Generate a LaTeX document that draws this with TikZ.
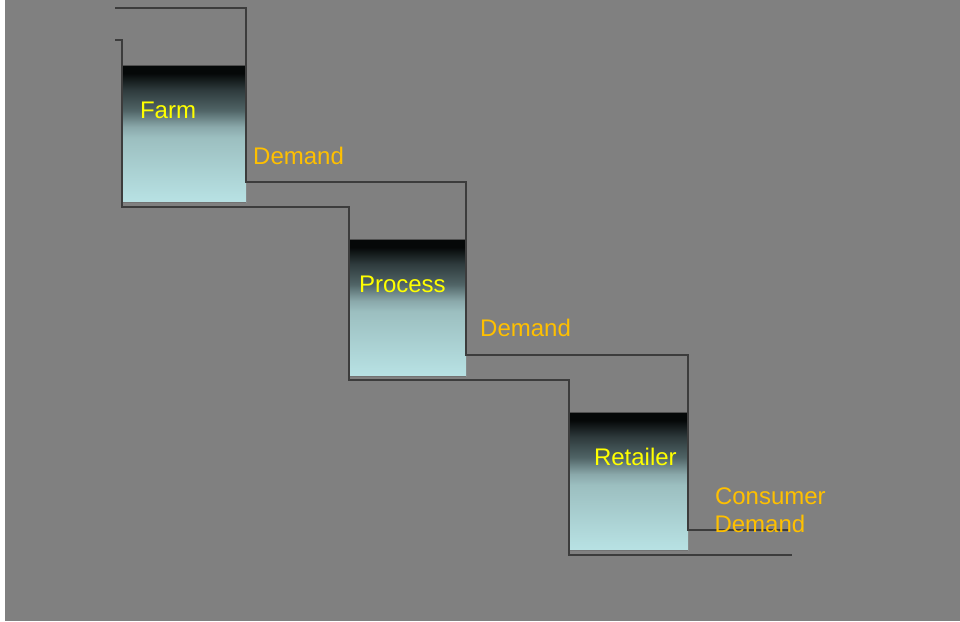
\documentclass[tikz,border=0pt]{standalone}
\usepackage{fontspec}
\setmainfont{Liberation Sans}
\definecolor{bgc}{HTML}{808080}
\definecolor{wallc}{HTML}{3C3C3C}
\definecolor{orangetxt}{HTML}{FFC000}
\definecolor{yellowtxt}{HTML}{FFFF00}
\definecolor{liqA}{HTML}{050808}
\definecolor{liqB}{HTML}{2E3A3C}
\definecolor{liqC}{HTML}{506466}
\definecolor{liqD}{HTML}{8AA8AA}
\definecolor{liqE}{HTML}{9CBFC0}
\definecolor{liqF}{HTML}{B8E2E4}
\pgfdeclareverticalshading{liquid}{100bp}{color(0bp)=(liqF); color(25bp)=(liqF); color(48.5bp)=(liqE); color(52.5bp)=(liqD); color(58.5bp)=(liqC); color(66bp)=(liqB); color(72bp)=(liqA); color(100bp)=(liqA)}
\begin{document}
\begin{tikzpicture}[x=1pt,y=-1pt,
  wall/.style={draw=wallc, line width=1.6pt},
  liq/.style={shading=liquid, draw=none},
  tanklabel/.style={text=yellowtxt, inner sep=0pt, anchor=base west, font=\fontsize{24}{28}\selectfont},
  flowlabel/.style={text=orangetxt, inner sep=0pt, anchor=base west, font=\fontsize{24}{28}\selectfont, align=left}]
\useasboundingbox[fill=white] (0,0) rectangle (960,621);
\fill[bgc] (5,0) rectangle (960,621);
% liquids
\shade[liq] (122,65) rectangle (246,202);
\shade[liq] (349,239) rectangle (466,376);
\shade[liq] (569,412) rectangle (688,550);
% liquid bottom edges
\draw[draw=gray!90!black, line width=1pt] (122,202.5) -- (246,202.5);
\draw[draw=gray!90!black, line width=1pt] (349,376.5) -- (466,376.5);
\draw[draw=gray!90!black, line width=1pt] (569,550.5) -- (688,550.5);
% liquid surface lines
\draw[draw=wallc!70!gray, line width=0.8pt] (122,65) -- (246,65);
\draw[draw=wallc!70!gray, line width=0.8pt] (349,239) -- (466,239);
\draw[draw=wallc!70!gray, line width=0.8pt] (569,412) -- (688,412);
% walls and pipes
\draw[wall] (115,40) -- (122,40) -- (122,207) -- (349,207) -- (349,380) -- (569,380) -- (569,555) -- (792,555);
\draw[wall] (115,8) -- (246,8) -- (246,182) -- (466,182) -- (466,355) -- (688,355) -- (688,530) -- (790,530);
% labels
\node[tanklabel] (farm) at (139.8,118) {Farm};
\node[tanklabel] (process) at (358.8,292) {Process};
\node[tanklabel] (retailer) at (593.8,465.7) {Retailer};
\node[flowlabel] (d1) at (253,164) {Demand};
\node[flowlabel] (d2) at (480,336.7) {Demand};
\node[flowlabel] (cons) at (714.8,504) {Consumer};
\node[flowlabel] (d3) at (714.3,532.7) {Demand};
\end{tikzpicture}
\end{document}
